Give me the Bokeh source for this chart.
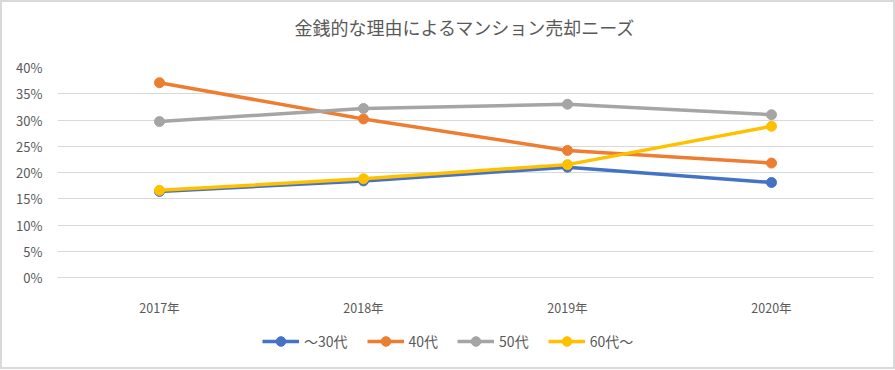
from bokeh.plotting import figure
from bokeh.layouts import column
from bokeh.models import Legend, LegendItem, NumeralTickFormatter, FixedTicker, Range1d, FactorRange, Title
from bokeh.embed import file_html
from bokeh.resources import INLINE

years = ["2017年", "2018年", "2019年", "2020年"]
s30 = [0.164, 0.184, 0.210, 0.181]
s40 = [0.371, 0.302, 0.242, 0.218]
s50 = [0.297, 0.322, 0.330, 0.310]
s60 = [0.166, 0.188, 0.215, 0.288]
names = ["～30代", "40代", "50代", "60代～"]
colors = ["#4472C4", "#ED7D31", "#A5A5A5", "#FFC000"]
yticks = [0, 0.05, 0.10, 0.15, 0.20, 0.25, 0.30, 0.35, 0.40]

FONT = "Noto Sans CJK JP"
p = figure(frame_width=816, frame_height=210, x_range=FactorRange(*years), y_range=Range1d(0, 0.4),
           output_backend="svg", toolbar_location=None, title=None,
           min_border_left=55, min_border_right=20, min_border_top=65, min_border_bottom=38)
p.add_layout(Title(text=" ", text_font_size="10px"), "above")
p.add_layout(Title(text="金銭的な理由によるマンション売却ニーズ", align="center",
                   text_font=FONT, text_font_size="18px", text_font_style="normal",
                   text_color="#595959"), "above")
p.outline_line_color = None

series = [s30, s40, s50, s60]
for vals, c in zip(series, colors):
    p.line(years, vals, line_color=c, line_width=3.5)
    p.scatter(years, vals, marker="circle", size=10, fill_color=c, line_color=c)

p.yaxis.ticker = FixedTicker(ticks=yticks)
p.yaxis.formatter = NumeralTickFormatter(format="0%")
p.yaxis.axis_line_color = None
p.yaxis.major_tick_line_color = None
p.yaxis.minor_tick_line_color = None
p.xaxis.axis_line_color = "#d9d9d9"
p.xaxis.major_tick_line_color = None
p.xaxis.minor_tick_line_color = None
for ax in (p.xaxis, p.yaxis):
    ax.major_label_text_font = FONT
    ax.major_label_text_color = "#595959"
p.yaxis.major_label_text_font_size = "13px"
p.xaxis.major_label_text_font_size = "12.5px"
p.xaxis.major_label_standoff = 14
p.yaxis.major_label_standoff = 9
p.xgrid.grid_line_color = None
p.ygrid.grid_line_color = "#d9d9d9"
p.ygrid.grid_line_width = 1

# legend strip (series drawn out of its visible range; only the legend shows)
q = figure(width=891, height=48, output_backend="svg", toolbar_location=None,
           x_range=FactorRange(*years), y_range=Range1d(1, 2),
           min_border_left=0, min_border_right=0, min_border_top=0, min_border_bottom=0)
q.axis.visible = False
q.grid.grid_line_color = None
q.outline_line_color = None
items = []
for vals, nm, c in zip(series, names, colors):
    l = q.line(years, vals, line_color=c, line_width=3.5)
    m = q.scatter(years, vals, marker="circle", size=10, fill_color=c, line_color=c)
    items.append(LegendItem(label=nm, renderers=[l, m]))
leg = Legend(items=items, orientation="horizontal", location=(205, 14),
             label_text_font=FONT, label_text_font_size="14px", label_text_color="#595959",
             glyph_width=37, glyph_height=24, label_height=24, spacing=19, label_standoff=5,
             border_line_color=None, background_fill_alpha=0, padding=0, margin=0)
q.add_layout(leg, "center")

layout = column(p, q, spacing=0)
layout.styles = {"border": "2px solid #d9d9d9"}

open("out.html", "w").write(file_html(layout, INLINE))
